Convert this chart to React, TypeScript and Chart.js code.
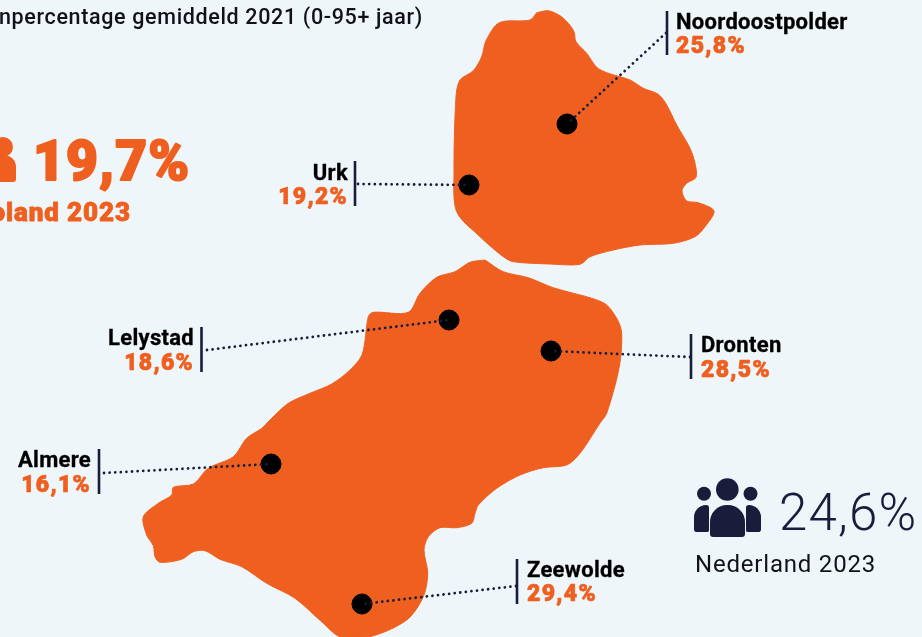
import React, { useEffect, useRef } from "react";
import { Chart, registerables } from "chart.js";

Chart.register(...registerables);

const municipalities = ["Noordoostpolder", "Urk", "Lelystad", "Dronten", "Almere", "Zeewolde"];
const percentages = ["25,8%", "19,2%", "18,6%", "28,5%", "16,1%", "29,4%"];
const markerX = [567, 469, 449, 551, 271, 362];
const markerY = [124, 185, 320, 351, 464, 604];
const leaderX = [666, 358, 207, 690, 104, 516];
const leaderY = [33, 184, 350, 357, 473, 586];
const barX = [667, 355, 201.5, 691, 99, 517];
const barTop = [11, 161, 327, 334, 449, 559];
const barBottom = [55, 206, 372, 379, 494, 604];
const labelAlign = ["left", "right", "right", "left", "right", "left"];
const labelX = [676, 348, 194, 701, 91, 527];
const nameBaseline = [29, 180, 345, 352, 467, 577];
const valueBaseline = [53, 204, 370, 377, 492, 601];

const northIsland: [number, number][] = [
  [536.7,12.7],[548.3,10.7],[560,15.7],[568.3,23.3],[574,31.7],[576,41.7],[586.7,53.3],[596.7,67.3],[606.7,72.7],
  [630,80],[643.3,88.3],[658.3,94.3],[666.7,105],[676.7,125],[690,148.3],[695,163.3],[696,177.3],[686.7,183.3],
  [682,190.7],[686.7,201],[698.3,202.7],[714,211],[705,226.7],[695,236.7],[673.3,243.3],[640,245],[613.3,250],
  [590,256.7],[580,264.3],[550,264],[513.3,261.7],[503.3,256.7],[480,236.7],[456.7,211.7],[454,173.3],[456,96.7],
  [460,80],[473.3,70.7],[481.7,56.7],[486,40.7],[499.3,22.7],[530,20],[536.7,12.7],
];
const southIsland: [number, number][] = [
  [485,260],[503.3,271.7],[528.3,277.7],[553.3,287.7],[603.3,302.7],[616.7,318.3],[621.7,333.3],[619.3,366.7],
  [606.7,413.3],[600,423],[580,453.3],[566.7,465],[543.3,467.7],[520,475],[496.7,488.3],[478.3,505],[475,513.3],
  [471.7,523.3],[456.7,527.7],[440,527.7],[428.3,536.7],[424,550],[427.7,573.3],[423.3,596.7],[406.7,620],
  [370,636.7],[340,636.7],[323.3,623.3],[295,598.3],[266.7,583.3],[241.7,566.7],[220,559.3],[205,550.7],
  [193.3,551.7],[181.7,559.3],[160,562.3],[155,556.7],[153.3,545.7],[146.7,535],[143.3,516.7],[158.3,503.3],
  [171.7,495],[173.3,487.3],[193.3,484],[208.3,468.3],[233.3,456.7],[246.7,438.3],[261.7,428.3],[270,420],
  [288.3,403.3],[310,393.3],[331.7,384],[350,370],[362.3,354],[368.3,316.7],[373.3,312.3],[408.3,312.3],
  [420,293.3],[436.7,277.3],[455,271.7],[470,262.3],[485,260],
];

const headerText = "npercentage gemiddeld 2021 (0-95+ jaar)";
const regionValue = "19,7%";
const regionLabel = "Flevoland 2023";
const nationalValue = "24,6%";
const nationalLabel = "Nederland 2023";

const ORANGE = "#EF5F1F";
const NAVY = "#1A1C3C";
const BLACK = "#000000";
const BG = "#EFF6FA";
const FONT = "Roboto, sans-serif";

const toPoints = (pts: [number, number][]) => pts.map(([x, y]) => ({ x, y }));

function rounded(ctx: CanvasRenderingContext2D, x: number, y: number, w: number, h: number, r: number[]) {
  ctx.beginPath();
  ctx.roundRect(x, y, w, h, r);
  ctx.fill();
}

const textPlugin = {
  id: "mapText",
  afterDatasetsDraw(chart: any) {
    const ctx: CanvasRenderingContext2D = chart.ctx;
    const sx = chart.scales.x;
    const sy = chart.scales.y;
    const X = (v: number) => sx.getPixelForValue(v);
    const Y = (v: number) => sy.getPixelForValue(v);
    ctx.save();
    ctx.textBaseline = "alphabetic";
    ctx.lineJoin = "round";

    const put = (t: string, x: number, y: number, font: string, color: string, align: CanvasTextAlign, spacing = "0px", stroke = 0) => {
      ctx.font = font;
      (ctx as any).letterSpacing = spacing;
      ctx.fillStyle = color;
      ctx.textAlign = align;
      ctx.fillText(t, X(x), Y(y));
      if (stroke > 0) {
        ctx.strokeStyle = color;
        ctx.lineWidth = stroke;
        ctx.strokeText(t, X(x), Y(y));
      }
    };

    put(headerText, 423, 24, `500 21.5px ${FONT}`, "#111118", "right", "0.65px");
    put(regionValue, 33, 180, `900 55px ${FONT}`, ORANGE, "left", "1.2px", 2);
    put(regionLabel, 131, 221, `900 26px ${FONT}`, ORANGE, "right", "0.9px", 0.8);
    put(nationalValue, 779, 530, `300 51px ${FONT}`, NAVY, "left", "1.2px");
    put(nationalLabel, 695, 572, `400 24px ${FONT}`, "#111118", "left", "0.8px");

    municipalities.forEach((name, i) => {
      const align = labelAlign[i] as CanvasTextAlign;
      put(name, labelX[i], nameBaseline[i], `700 22px ${FONT}`, BLACK, align, "0.3px", 0.3);
      put(percentages[i], labelX[i], valueBaseline[i], `900 23px ${FONT}`, ORANGE, align, "1.3px", 0.7);
    });

    // People icon, national figure
    ctx.fillStyle = NAVY;
    [[704, 493.7, 7], [727.3, 489.5, 11.3], [750.5, 493.7, 7]].forEach(([x, y, r]) => {
      ctx.beginPath();
      ctx.arc(X(x), Y(y), r, 0, Math.PI * 2);
      ctx.fill();
    });
    rounded(ctx, X(694), Y(505), 15, 27, [13, 3, 2, 3]);
    rounded(ctx, X(746), Y(505), 15, 27, [3, 13, 3, 2]);
    rounded(ctx, X(710), Y(505), 35, 32, [17, 17, 3, 3]);

    // Clipped icon fragment, regional figure
    ctx.fillStyle = ORANGE;
    ctx.beginPath();
    ctx.arc(X(3), Y(147), 10, 0, Math.PI * 2);
    ctx.fill();
    rounded(ctx, X(-12), Y(155), 28, 27, [2, 12, 3, 3]);
    ctx.restore();
  },
};

export default function App() {
  const ref = useRef<HTMLCanvasElement>(null);
  useEffect(() => {
    document.body.style.margin = "0";
    document.body.style.background = BG;
    const leaders = municipalities.map((name, i) => ({
      type: "line" as const,
      label: `${name} lijn`,
      data: [{ x: leaderX[i], y: leaderY[i] }, { x: markerX[i], y: markerY[i] }],
      borderColor: NAVY,
      borderWidth: 2.8,
      borderDash: [0.01, 5.6],
      borderCapStyle: "round" as const,
      pointRadius: 0,
      order: 1,
    }));
    const bars = municipalities.map((name, i) => ({
      type: "line" as const,
      label: `${name} streep`,
      data: [{ x: barX[i], y: barTop[i] }, { x: barX[i], y: barBottom[i] }],
      borderColor: NAVY,
      borderWidth: 2.6,
      pointRadius: 0,
      order: 1,
    }));
    const island = (label: string, pts: [number, number][]) => ({
      type: "line" as const,
      label,
      data: toPoints(pts),
      borderColor: ORANGE,
      backgroundColor: ORANGE,
      borderWidth: 1,
      fill: "shape" as const,
      tension: 0.3,
      pointRadius: 0,
      order: 3,
    });
    const chart = new Chart(ref.current!, {
      type: "line",
      data: {
        datasets: [
          island("Noord", northIsland),
          island("Zuid", southIsland),
          {
            type: "scatter" as const,
            label: "Gemeenten",
            data: markerX.map((x, i) => ({ x, y: markerY[i] })),
            backgroundColor: BLACK,
            borderColor: BLACK,
            pointRadius: 10,
            pointHoverRadius: 10,
            order: 2,
          },
          ...leaders,
          ...bars,
        ] as any,
      },
      options: {
        animation: false,
        responsive: false,
        parsing: false as any,
        normalized: false,
        layout: { padding: 0, autoPadding: false },
        plugins: { legend: { display: false }, tooltip: { enabled: false } },
        events: [],
        scales: {
          x: { type: "linear", min: 0, max: 922, display: false },
          y: { type: "linear", min: 0, max: 637, reverse: true, display: false },
        },
      },
      plugins: [textPlugin],
    });
    return () => chart.destroy();
  }, []);
  return (
    <div style={{ width: 922, height: 637, background: BG, overflow: "hidden" }}>
      <canvas ref={ref} width={922} height={637} style={{ display: "block" }} />
    </div>
  );
}
